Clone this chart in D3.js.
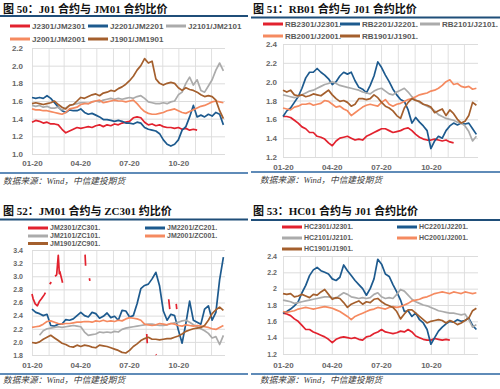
<!DOCTYPE html>
<html>
<head>
<meta charset="utf-8">
<script src="https://cdn.jsdelivr.net/npm/d3@7"></script>
<style>
body { margin: 0; background: #fff; }
</style>
</head>
<body>
<script>
// weekly sample dates, 20 Jan onwards (year is only a placeholder for the seasonal axis)
var start = new Date(2021, 0, 20);
var weeks = d3.range(52).map(function(k) { return d3.timeDay.offset(start, 7 * k); });
var monthTicks = d3.range(12).map(function(m) { return new Date(2021, m, 20); });
var labelTicks = [0, 3, 6, 9].map(function(m) { return new Date(2021, m, 20); });

// fig 50: J01 / JM01
var j_jm_2301 = [1.36,1.38,1.37,1.35,1.36,1.34,1.34,1.33,1.28,1.24,1.26,1.28,1.30,1.29,1.30,1.31,1.30,1.32,1.33,1.31,1.33,1.32,1.34,1.33,1.35,1.36,1.37,1.41,1.42,1.41,1.36,1.33,1.34,1.32,1.33,1.31,1.30,1.30,1.29,1.30,1.28,1.29,1.27,1.28,1.27];
var j_jm_2201 = [1.64,1.63,1.64,1.63,1.66,1.63,1.58,1.53,1.49,1.47,1.50,1.49,1.49,1.51,1.47,1.45,1.46,1.44,1.42,1.39,1.39,1.38,1.37,1.38,1.37,1.35,1.35,1.34,1.36,1.35,1.30,1.28,1.27,1.26,1.23,1.16,1.11,1.09,1.11,1.16,1.27,1.31,1.42,1.55,1.42,1.44,1.42,1.45,1.43,1.47,1.45,1.33];
var j_jm_2101 = [1.55,1.54,1.55,1.53,1.54,1.52,1.52,1.53,1.50,1.52,1.55,1.56,1.57,1.58,1.58,1.57,1.59,1.60,1.59,1.61,1.62,1.63,1.62,1.63,1.62,1.63,1.64,1.63,1.65,1.66,1.63,1.59,1.58,1.57,1.57,1.58,1.57,1.59,1.60,1.67,1.70,1.80,1.87,1.78,1.84,1.72,1.70,1.77,1.84,1.95,2.03,1.94];
var j_jm_2001 = [1.51,1.50,1.50,1.49,1.49,1.48,1.47,1.46,1.45,1.47,1.51,1.52,1.53,1.56,1.57,1.57,1.59,1.60,1.61,1.58,1.59,1.60,1.61,1.60,1.60,1.59,1.60,1.61,1.57,1.52,1.48,1.46,1.45,1.45,1.46,1.47,1.49,1.50,1.51,1.49,1.47,1.46,1.48,1.50,1.52,1.54,1.55,1.57,1.59,1.60,1.59,1.58];
var j_jm_1901 = [1.57,1.58,1.57,1.56,1.57,1.58,1.60,1.56,1.53,1.51,1.55,1.56,1.60,1.64,1.63,1.65,1.67,1.68,1.66,1.69,1.70,1.72,1.71,1.74,1.76,1.79,1.83,1.88,1.95,2.00,2.08,2.03,2.05,1.85,1.80,1.78,1.80,1.81,1.80,1.75,1.72,1.75,1.73,1.72,1.70,1.67,1.65,1.66,1.65,1.61,1.49,1.40];

// fig 51: RB01 / J01
var rb_j_2301 = [1.63,1.63,1.62,1.59,1.56,1.52,1.50,1.46,1.46,1.42,1.41,1.39,1.35,1.32,1.37,1.40,1.41,1.42,1.40,1.38,1.39,1.38,1.42,1.44,1.46,1.48,1.50,1.50,1.48,1.46,1.47,1.48,1.50,1.51,1.48,1.44,1.41,1.39,1.38,1.38,1.39,1.38,1.37,1.38,1.36,1.35];
var rb_j_2201 = [1.63,1.69,1.72,1.78,1.84,1.93,2.04,2.10,2.10,2.14,2.10,2.07,2.03,1.97,2.00,2.06,2.10,2.08,2.10,2.01,1.94,1.92,1.88,1.96,2.06,2.21,2.15,2.07,2.00,1.92,1.86,1.81,1.79,1.70,1.56,1.62,1.57,1.53,1.48,1.29,1.37,1.42,1.40,1.48,1.53,1.56,1.54,1.56,1.55,1.56,1.50,1.44];
var rb_j_2101 = [1.86,1.85,1.84,1.83,1.84,1.86,1.88,1.90,1.91,1.93,1.95,1.97,1.98,2.00,1.98,1.96,1.95,1.94,1.93,1.92,1.91,1.89,1.88,1.87,1.90,1.92,1.93,1.90,1.87,1.86,1.89,1.91,1.93,1.89,1.84,1.81,1.78,1.76,1.74,1.72,1.69,1.65,1.63,1.61,1.60,1.59,1.57,1.56,1.53,1.47,1.37,1.42];
var rb_j_2001 = [1.72,1.71,1.70,1.73,1.74,1.76,1.76,1.77,1.75,1.76,1.77,1.80,1.79,1.76,1.73,1.74,1.71,1.69,1.64,1.67,1.70,1.73,1.75,1.76,1.75,1.74,1.78,1.81,1.76,1.74,1.76,1.77,1.79,1.81,1.82,1.84,1.86,1.87,1.88,1.90,1.91,1.93,1.96,2.00,2.02,1.97,1.98,1.95,1.94,1.95,1.92,1.93];
var rb_j_1901 = [1.91,1.89,1.91,1.86,1.85,1.86,1.84,1.85,1.87,1.86,1.85,1.88,1.91,1.86,1.82,1.79,1.80,1.78,1.74,1.76,1.82,1.82,1.81,1.82,1.86,1.83,1.78,1.74,1.72,1.69,1.64,1.61,1.72,1.78,1.82,1.80,1.79,1.76,1.75,1.73,1.67,1.69,1.71,1.64,1.70,1.66,1.60,1.56,1.58,1.64,1.78,1.75];

// fig 52: JM01 / ZC (2301 series is only traded now and then, so it has its own dates and gaps)
var jm_zc_2301_dates = ["01-20","01-22","01-26","01-30","02-03","02-07","02-12","02-14","02-17","02-22","02-25","02-28","03-04","03-07","03-10","03-12","03-13","03-16","03-18","03-21","04-29","04-30","05-03","05-07","05-08","05-10","08-22","08-23","08-25","09-08","09-09","09-11","10-02","10-04","10-06","10-16","10-17"];
var jm_zc_2301 = [2.73,2.66,2.58,2.55,2.62,2.66,2.72,2.75,null,2.88,2.91,null,3.00,3.02,3.32,3.04,3.07,2.97,2.90,null,3.33,3.16,null,2.97,2.93,null,2.12,1.98,null,1.81,1.80,null,2.65,2.50,null,2.58,2.50];
var jm_zc_2201 = [2.50,2.45,2.43,2.40,2.42,2.25,2.24,2.27,2.27,2.34,2.33,2.35,2.40,2.45,2.40,2.38,2.45,2.43,2.36,2.39,2.44,2.37,2.39,2.33,2.48,2.47,2.38,2.40,2.58,2.81,2.86,2.88,2.96,3.06,2.85,2.47,2.33,2.42,2.40,2.18,1.98,2.28,2.62,2.33,2.30,2.27,2.50,2.55,2.33,2.45,2.95,3.29];
var jm_zc_2101 = [null,null,2.10,2.17,2.20,2.21,2.22,2.23,2.22,2.23,2.24,2.25,2.24,2.23,2.15,2.10,2.11,2.12,2.15,2.14,2.15,2.14,2.16,2.15,2.19,2.21,2.22,2.23,2.24,2.25,2.26,2.27,2.27,2.26,2.25,2.25,2.26,2.28,2.29,2.30,2.32,2.33,2.30,2.26,2.23,2.20,2.17,2.13,2.06,2.08,1.96,2.10];
var jm_zc_2001 = [2.22,2.23,2.24,2.27,2.31,2.32,2.30,2.28,2.27,2.28,2.28,2.29,2.30,2.30,2.31,2.31,2.30,2.32,2.31,2.33,2.31,2.32,2.31,2.33,2.32,2.35,2.37,2.36,2.35,2.33,2.27,2.26,2.25,2.26,2.28,2.27,2.26,2.28,2.27,2.25,2.24,2.26,2.25,2.24,2.25,2.24,2.23,2.22,2.20,2.19,2.22,2.25];
var jm_zc_1901 = [1.99,1.98,2.00,2.04,2.07,2.10,2.06,2.02,1.98,1.96,1.93,1.92,1.95,1.93,1.95,1.94,1.92,1.91,1.95,1.94,1.93,1.91,1.89,1.87,1.84,1.83,1.87,1.93,1.97,2.02,2.05,2.07,2.04,2.04,2.03,2.04,2.05,2.05,2.07,2.09,2.12,2.16,2.18,2.20,2.21,2.22,2.25,2.33,2.43,2.49,2.53,2.48];

// fig 53: HC01 / J01
var hc_j_2301 = [1.70,1.69,1.67,1.63,1.60,1.55,1.50,1.50,1.47,1.45,1.43,1.41,1.38,1.34,1.38,1.40,1.41,1.40,1.39,1.40,1.38,1.37,1.41,1.42,1.45,1.47,1.50,1.47,1.46,1.45,1.46,1.48,1.47,1.50,1.47,1.42,1.40,1.38,1.37,1.37,1.39,1.38,1.37,1.38,1.37];
var hc_j_2201 = [1.70,1.72,1.75,1.79,1.84,1.95,2.04,2.16,2.23,2.26,2.22,2.20,2.18,2.12,2.10,2.14,2.29,2.22,2.16,2.10,2.05,2.00,1.92,2.00,2.12,2.36,2.30,2.18,2.15,2.05,1.96,1.86,1.72,1.73,1.66,1.70,1.62,1.58,1.50,1.32,1.40,1.48,1.53,1.57,1.60,1.59,1.62,1.60,1.61,1.64,1.55,1.50];
var hc_j_2101 = [1.86,1.85,1.84,1.82,1.83,1.84,1.85,1.86,1.87,1.88,1.89,1.90,1.90,1.89,1.88,1.92,1.95,1.93,1.90,1.89,1.88,1.89,1.88,1.89,1.93,1.95,1.90,1.88,1.89,1.88,1.93,1.99,1.97,1.92,1.87,1.84,1.82,1.80,1.79,1.77,1.75,1.73,1.72,1.71,1.70,1.70,1.69,1.68,1.69,1.62,1.53,1.56];
var hc_j_2001 = [1.72,1.71,1.72,1.73,1.75,1.76,1.77,1.76,1.75,1.76,1.77,1.78,1.77,1.76,1.74,1.72,1.69,1.66,1.62,1.66,1.68,1.70,1.72,1.74,1.75,1.77,1.76,1.75,1.77,1.78,1.77,1.78,1.80,1.82,1.85,1.86,1.87,1.89,1.90,1.92,1.94,1.95,1.96,1.95,1.94,1.96,1.95,1.94,1.96,1.95,1.94,1.95];
var hc_j_1901 = [1.94,1.93,1.94,1.90,1.91,1.93,1.91,1.89,1.93,1.92,1.96,1.99,1.93,1.87,1.89,1.88,1.83,1.77,1.81,1.83,1.85,1.81,1.84,1.83,1.87,1.88,1.84,1.81,1.79,1.77,1.72,1.63,1.69,1.74,1.74,1.70,1.66,1.62,1.58,1.60,1.61,1.62,1.61,1.58,1.61,1.59,1.56,1.58,1.61,1.64,1.73,1.76];

var colors = ["#e2222e", "#1d5a8e", "#ababab", "#f58a60", "#a45f2d"];
var source = "数据来源：Wind，中信建投期货";

function weekly(vals) {
  return vals.map(function(v, i) { return {date: weeks[i], v: v}; });
}
function dated(dates, vals) {
  return dates.map(function(s, i) { return {date: new Date("2021-" + s + "T00:00:00"), v: vals[i]}; });
}

var panels = [
  {
    title: "图 50：J01 合约与 JM01 合约比价", tx: 3, ty: 13, rule: [0, 248, 16], foot: 173, srcX: 3, srcY: 184,
    left: 32, right: 225, top: 48, bottom: 154, yDomain: [1.0, 2.2], yTicks: [1.0,1.2,1.4,1.6,1.8,2.0,2.2],
    fmt: d3.format(".1f"), yPad: 9, xPad: 6, font: 8,
    names: ["J2301/JM2301", "J2201/JM2201", "J2101/JM2101", "J2001/JM2001", "J1901/JM1901"],
    legend: [[10, 26], [88, 26], [166, 26], [10, 39], [88, 39]],
    series: [weekly(j_jm_2301), weekly(j_jm_2201), weekly(j_jm_2101), weekly(j_jm_2001), weekly(j_jm_1901)]
  },
  {
    title: "图 51：RB01 合约与 J01 合约比价", tx: 253, ty: 13, rule: [251, 500, 17.5], foot: 172, srcX: 260, srcY: 183,
    left: 283, right: 478, top: 44, bottom: 157, yDomain: [1.2, 2.4], yTicks: [1.2,1.4,1.6,1.8,2.0,2.2,2.4],
    fmt: d3.format(".1f"), yPad: 6, xPad: 7.5, font: 8,
    names: ["RB2301/J2301.", "RB2201/J2201.", "RB2101/J2101.", "RB2001/J2001.", "RB1901/J1901."],
    legend: [[263, 24], [340, 24], [420, 24], [263, 36], [340, 36]],
    series: [weekly(rb_j_2301), weekly(rb_j_2201), weekly(rb_j_2101), weekly(rb_j_2001), weekly(rb_j_1901)]
  },
  {
    title: "图 52：JM01 合约与 ZC301 约比价", tx: 3, ty: 215, rule: [0, 248, 219.5], foot: 374, srcX: 3, srcY: 383,
    left: 32, right: 225, top: 250, bottom: 355, yDomain: [1.8, 3.4], yTicks: [1.8,2.0,2.2,2.4,2.6,2.8,3.0,3.2,3.4],
    fmt: d3.format(".1f"), yPad: 9, xPad: 7, font: 7,
    names: ["JM2301/ZC301.", "JM2201/ZC201.", "JM2101/ZC101.", "JM2001/ZC001.", "JM1901/ZC901."],
    legend: [[28, 228], [145, 228], [28, 236], [145, 236], [28, 243.5]],
    series: [dated(jm_zc_2301_dates, jm_zc_2301), weekly(jm_zc_2201), weekly(jm_zc_2101), weekly(jm_zc_2001), weekly(jm_zc_1901)]
  },
  {
    title: "图 53：HC01 合约与 J01 合约比价", tx: 253, ty: 215, rule: [251, 500, 220], foot: 374, srcX: 260, srcY: 383,
    left: 283, right: 478, top: 256, bottom: 354, yDomain: [1.2, 2.4], yTicks: [1.2,1.4,1.6,1.8,2.0,2.2,2.4],
    fmt: d3.format(".1~f"), yPad: 6, xPad: 8, font: 7,
    names: ["HC2301/J2301.", "HC2201/J2201.", "HC2101/J2101.", "HC2001/J2001.", "HC1901/J1901."],
    legend: [[282, 227], [397, 227], [282, 238], [397, 238], [282, 249]],
    series: [weekly(hc_j_2301), weekly(hc_j_2201), weekly(hc_j_2101), weekly(hc_j_2001), weekly(hc_j_1901)]
  }
];

var svg = d3.select("body").append("svg")
  .attr("width", 500)
  .attr("height", 389)
  .style("display", "block");

panels.forEach(function(p) {
  var x = d3.scaleTime().domain([start, new Date(2022, 0, 15)]).range([p.left, p.right]);
  var y = d3.scaleLinear().domain(p.yDomain).range([p.bottom, p.top]);

  // title and rules
  svg.append("text")
    .attr("x", p.tx).attr("y", p.ty)
    .attr("font-family", "'Liberation Serif','Times New Roman','Noto Sans CJK SC',serif")
    .attr("font-size", "11px").attr("font-weight", "bold").attr("fill", "#111")
    .text(p.title);
  svg.append("line")
    .attr("x1", p.rule[0]).attr("x2", p.rule[1]).attr("y1", p.rule[2]).attr("y2", p.rule[2])
    .attr("stroke", "#1f4e79").attr("stroke-width", 2);
  svg.append("line")
    .attr("x1", p.rule[0]).attr("x2", p.rule[1]).attr("y1", p.foot).attr("y2", p.foot)
    .attr("stroke", "#2a64a0").attr("stroke-width", 1.5);
  svg.append("text")
    .attr("x", p.srcX).attr("y", p.srcY)
    .attr("font-family", "'Liberation Serif','Noto Sans CJK SC',serif")
    .attr("font-size", "8.7px").attr("font-style", "italic").attr("fill", "#404040")
    .text(source);

  // gridlines
  var gx = svg.append("g")
    .attr("transform", "translate(0," + p.bottom + ")")
    .call(d3.axisBottom(x).tickValues(monthTicks).tickSize(-(p.bottom - p.top)).tickFormat(""));
  gx.select(".domain").remove();
  gx.selectAll("line").attr("stroke", "#e0e0e0");

  var gy = svg.append("g")
    .attr("transform", "translate(" + p.left + ",0)")
    .call(d3.axisLeft(y).tickValues(p.yTicks).tickSize(-(p.right - p.left)).tickPadding(p.yPad).tickFormat(p.fmt));
  gy.select(".domain").remove();
  gy.selectAll("line").attr("stroke", "#dcdcdc");
  gy.selectAll("text")
    .attr("font-family", "'Liberation Sans',Arial,sans-serif")
    .attr("font-size", p.font + "px").attr("font-weight", "bold").attr("fill", "#666");

  var lx = svg.append("g")
    .attr("transform", "translate(0," + p.bottom + ")")
    .call(d3.axisBottom(x).tickValues(labelTicks).tickSize(0).tickPadding(p.xPad).tickFormat(d3.timeFormat("%m-%d")));
  lx.select(".domain").remove();
  lx.selectAll("text")
    .attr("font-family", "'Liberation Sans',Arial,sans-serif")
    .attr("font-size", "8px").attr("font-weight", "bold").attr("fill", "#666");

  // series
  var line = d3.line()
    .defined(function(d) { return d.v != null; })
    .x(function(d) { return x(d.date); })
    .y(function(d) { return y(d.v); });

  p.series.forEach(function(s, i) {
    svg.append("path")
      .datum(s)
      .attr("d", line)
      .attr("fill", "none")
      .attr("stroke", colors[i])
      .attr("stroke-width", 1.7)
      .attr("stroke-linejoin", "round");
  });

  // legend
  p.names.forEach(function(n, i) {
    var lg = svg.append("g").attr("transform", "translate(" + p.legend[i][0] + "," + p.legend[i][1] + ")");
    lg.append("line")
      .attr("x1", 0).attr("x2", 20).attr("y1", 0).attr("y2", 0)
      .attr("stroke", colors[i]).attr("stroke-width", 3);
    lg.append("text")
      .attr("x", 22).attr("y", 0).attr("dy", "0.35em")
      .attr("font-family", "'Liberation Sans',Arial,sans-serif")
      .attr("font-size", p.font + "px").attr("font-weight", "bold").attr("fill", "#595959")
      .text(n);
  });
});
</script>
</body>
</html>
